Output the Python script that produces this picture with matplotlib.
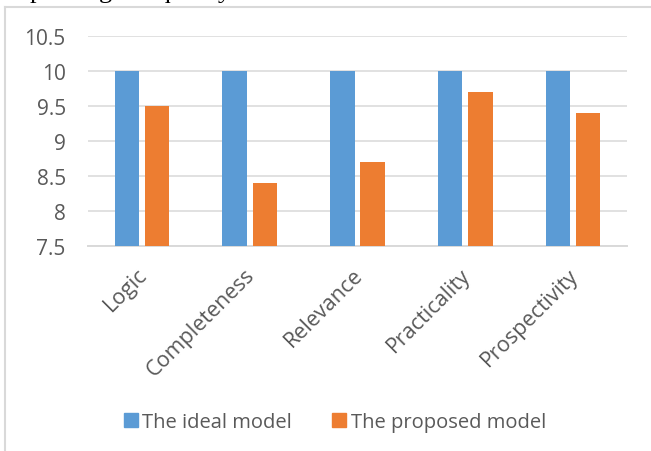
import numpy as np
import matplotlib
matplotlib.use('Agg')
import matplotlib.pyplot as plt
from matplotlib.lines import Line2D

# data
categories = ['Logic', 'Completeness', 'Relevance', 'Practicality', 'Prospectivity']
ideal = [10, 10, 10, 10, 10]
proposed = [9.5, 8.4, 8.7, 9.7, 9.4]
yticks = [7.5, 8, 8.5, 9, 9.5, 10, 10.5]

blue = '#5B9BD5'
orange = '#ED7D31'
grey_txt = '#595959'
grid_col = '#d9d9d9'

plt.rcParams['font.family'] = ['Open Sans', 'DejaVu Sans']

fig = plt.figure(figsize=(6.51, 4.52), dpi=100)
ax = fig.add_axes([88/651, 1 - 247/452, (627-88)/651, (247-37)/452])

x = np.arange(len(categories))
w = 0.225
gap = 0.055
ax.bar(x - (w + gap)/2, [v - 7.5 for v in ideal], w, bottom=7.5, color=blue, zorder=3)
ax.bar(x + (w + gap)/2, [v - 7.5 for v in proposed], w, bottom=7.5, color=orange, zorder=3)

ax.set_xlim(-0.5, len(categories) - 0.5)
ax.set_ylim(7.5, 10.5)
ax.set_yticks(yticks)
ax.set_yticklabels([('%g' % t) for t in yticks], fontsize=15, color=grey_txt)
ax.yaxis.grid(True, color=grid_col, linewidth=1.1, zorder=0)
ax.tick_params(axis='y', length=0, pad=16)
ax.tick_params(axis='x', length=0)
ax.set_xticks(x)
ax.set_xticklabels([])
for s in ['left', 'right', 'top']:
    ax.spines[s].set_visible(False)
ax.spines['bottom'].set_color(grid_col)
ax.spines['bottom'].set_linewidth(1.4)

for i, c in enumerate(categories):
    ax.annotate(c, xy=(i, 7.5), xycoords='data', xytext=(-4, -13), textcoords='offset points',
                rotation=45, ha='right', va='top', rotation_mode='anchor',
                fontsize=15.5, color=grey_txt)

# legend
handles = [plt.Rectangle((0, 0), 1, 1, color=blue), plt.Rectangle((0, 0), 1, 1, color=orange)]
fig.legend(handles, ['The ideal model', 'The proposed model'], loc='center',
           bbox_to_anchor=(335/651, 1 - 423/452), ncol=2, frameon=False,
           fontsize=14.5, labelcolor=grey_txt, handlelength=0.7, handleheight=0.7,
           handletextpad=0.2, columnspacing=2.0)

# chart frame (top and left edges visible)
fig.add_artist(Line2D([5/651, 1], [1 - 8/452, 1 - 8/452], color=grid_col, linewidth=1.5))
fig.add_artist(Line2D([5/651, 5/651], [0, 1 - 8/452], color=grid_col, linewidth=1.5))

# line of body text above the chart, mostly cut off by the top edge
fig.text(0.003, 1 + 2/452, 'improving the quality of education.', family='Liberation Serif',
         fontsize=19, color='black', va='baseline', ha='left')

fig.savefig('out.png', dpi=100)
